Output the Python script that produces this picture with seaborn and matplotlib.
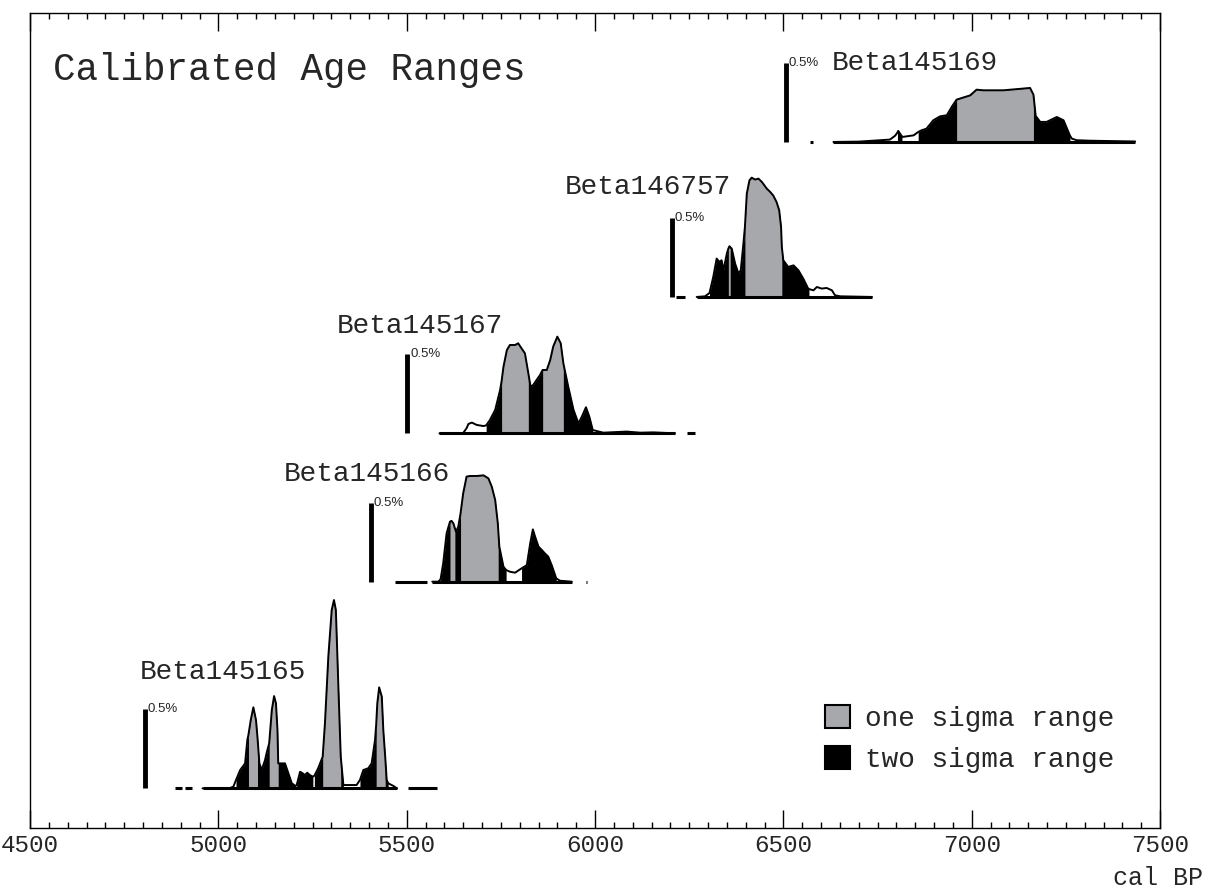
import matplotlib
matplotlib.use("Agg")
import matplotlib.pyplot as plt
from matplotlib.patches import Patch
from matplotlib.ticker import MultipleLocator
import numpy as np
import seaborn as sns

# calibrated probability curves (year cal BP, probability in % per year)
b145169_year = [6633, 6700, 6757, 6783, 6797, 6803, 6805, 6815, 6817, 6846, 6858, 6867, 6880,
                6898, 6916, 6934, 6947, 6960, 6996, 7013, 7031, 7084, 7137, 7155, 7164, 7170,
                7182, 7199, 7226, 7244, 7257, 7261, 7266, 7279, 7314, 7434]
b145169_prob = [0.0, 0.002, 0.011, 0.015, 0.040, 0.060, 0.070, 0.035, 0.032, 0.042, 0.063, 0.074, 0.084,
                0.137, 0.162, 0.169, 0.222, 0.268, 0.295, 0.331, 0.327, 0.327, 0.338, 0.342, 0.300, 0.165,
                0.127, 0.127, 0.158, 0.137, 0.063, 0.040, 0.021, 0.011, 0.008, 0.003]

b146757_year = [6270, 6292, 6304, 6314, 6323, 6330, 6336, 6341, 6350, 6354, 6357, 6359, 6363, 6372,
                6381, 6387, 6394, 6398, 6403, 6410, 6416, 6425, 6434, 6443, 6456, 6465, 6473, 6482,
                6489, 6494, 6496, 6500, 6513, 6527, 6540, 6553, 6566, 6568, 6580, 6589, 6602, 6615,
                6629, 6637, 6651, 6735]
b146757_prob = [0.0, 0.004, 0.025, 0.127, 0.243, 0.222, 0.232, 0.169, 0.274, 0.306, 0.321, 0.315, 0.306, 0.211,
                0.148, 0.169, 0.338, 0.443, 0.654, 0.738, 0.755, 0.743, 0.749, 0.728, 0.686, 0.665, 0.643, 0.601,
                0.549, 0.443, 0.316, 0.232, 0.190, 0.200, 0.169, 0.116, 0.053, 0.050, 0.042, 0.063, 0.053, 0.057,
                0.042, 0.011, 0.004, 0.0]

b145167_year = [5587, 5650, 5659, 5664, 5673, 5686, 5704, 5711, 5721, 5735, 5748, 5752, 5757, 5766,
                5774, 5788, 5796, 5805, 5814, 5823, 5829, 5836, 5845, 5854, 5861, 5872, 5881, 5889,
                5900, 5909, 5916, 5929, 5943, 5956, 5965, 5976, 5985, 5994, 6022, 6084, 6120, 6155, 6212]
b145167_prob = [0.0, 0.002, 0.032, 0.059, 0.068, 0.053, 0.046, 0.050, 0.084, 0.148, 0.274, 0.330, 0.422, 0.527,
                0.559, 0.559, 0.570, 0.538, 0.506, 0.380, 0.295, 0.306, 0.338, 0.369, 0.401, 0.401, 0.464, 0.549,
                0.612, 0.570, 0.443, 0.295, 0.148, 0.063, 0.105, 0.165, 0.105, 0.021, 0.004, 0.011, 0.004, 0.006, 0.0]

b145166_year = [5568, 5584, 5590, 5597, 5606, 5615, 5619, 5624, 5628, 5631, 5637, 5643, 5650, 5659,
                5668, 5686, 5704, 5717, 5726, 5735, 5742, 5743, 5746, 5757, 5764, 5774, 5788, 5796,
                5805, 5819, 5828, 5835, 5841, 5850, 5859, 5867, 5876, 5885, 5897, 5907, 5938]
b145166_prob = [0.0, 0.0, 0.015, 0.116, 0.306, 0.380, 0.385, 0.369, 0.338, 0.316, 0.348, 0.432, 0.559, 0.665,
                0.669, 0.669, 0.673, 0.654, 0.601, 0.517, 0.369, 0.330, 0.222, 0.095, 0.074, 0.063, 0.057, 0.070,
                0.084, 0.105, 0.243, 0.331, 0.285, 0.222, 0.200, 0.179, 0.158, 0.105, 0.021, 0.006, 0.0]

b145165_year = [4958, 5031, 5040, 5047, 5058, 5071, 5077, 5080, 5086, 5093, 5100, 5104, 5109, 5115,
                5124, 5128, 5135, 5142, 5148, 5153, 5157, 5159, 5168, 5177, 5186, 5195, 5205, 5208,
                5217, 5224, 5230, 5236, 5243, 5251, 5255, 5265, 5277, 5283, 5292, 5301, 5307, 5312,
                5319, 5325, 5332, 5341, 5367, 5376, 5385, 5398, 5407, 5416, 5419, 5422, 5427, 5434,
                5438, 5443, 5447, 5451, 5465, 5474]
b145165_prob = [0.0, 0.002, 0.011, 0.053, 0.116, 0.158, 0.306, 0.340, 0.432, 0.513, 0.432, 0.320, 0.158, 0.116,
                0.179, 0.222, 0.285, 0.496, 0.584, 0.538, 0.369, 0.158, 0.158, 0.158, 0.095, 0.032, 0.015, 0.020,
                0.105, 0.095, 0.084, 0.099, 0.084, 0.074, 0.080, 0.127, 0.200, 0.411, 0.833, 1.129, 1.192, 1.129,
                0.622, 0.200, 0.021, 0.021, 0.021, 0.053, 0.116, 0.127, 0.158, 0.306, 0.400, 0.538, 0.639, 0.580,
                0.369, 0.200, 0.053, 0.032, 0.015, 0.0]

# sigma ranges (cal BP)
b145169_one = [(6960, 7164)]
b145169_two = [(6803, 6815), (6858, 7261)]
b146757_one = [(6354, 6359), (6398, 6496)]
b146757_two = [(6304, 6568)]
b145167_one = [(5752, 5823), (5861, 5916)]
b145167_two = [(5711, 5994)]
b145166_one = [(5615, 5628), (5643, 5743)]
b145166_two = [(5590, 5764), (5805, 5897)]
b145165_one = [(5080, 5104), (5135, 5159), (5277, 5325), (5419, 5443)]
b145165_two = [(5047, 5205), (5208, 5251), (5255, 5332), (5376, 5451)]

# baseline segments under each curve
b145169_base = [(6571, 6579), (6633, 7434)]
b146757_base = [(6215, 6239), (6270, 6735)]
b145167_base = [(5587, 6212), (6244, 6266)]
b145166_base = [(5469, 5553), (5568, 5938), (5976, 5980)]
b145165_base = [(4885, 4903), (4912, 4930), (4958, 5474), (5504, 5580)]

names = ["Beta145169", "Beta146757", "Beta145167", "Beta145166", "Beta145165"]
scale_bar_x = [6507, 6204, 5502, 5405, 4805]

samples = [
    (b145169_year, b145169_prob, b145169_one, b145169_two, b145169_base),
    (b146757_year, b146757_prob, b146757_one, b146757_two, b146757_base),
    (b145167_year, b145167_prob, b145167_one, b145167_two, b145167_base),
    (b145166_year, b145166_prob, b145166_one, b145166_two, b145166_base),
    (b145165_year, b145165_prob, b145165_one, b145165_two, b145165_base),
]

# layout: vertical offset of each curve and where its label goes
offsets = [4.342, 3.361, 2.498, 1.559, 0.251]
label_pos = [(6629, 0.50), (5920, 0.696), (5315, 0.679), (5174, 0.682), (4792, 0.736)]

GREY = "#a7a8ab"
MONO = "Liberation Mono"

sns.set_style("ticks")
fig = plt.figure(figsize=(12.08, 8.92), dpi=100)
ax = fig.add_axes([30 / 1208, 1 - 828 / 892, 1130 / 1208, 815 / 892])

for (yr, pr, one, two, base), off, name, bx, (lx, ly) in zip(samples, offsets, names, scale_bar_x, label_pos):
    yr = np.array(yr, dtype=float)
    pr = np.array(pr) + off
    for a, b in two:
        m = (yr >= a) & (yr <= b)
        ax.fill_between(yr, off, pr, where=m, color="black", lw=0, zorder=2)
    for a, b in one:
        m = (yr >= a) & (yr <= b)
        ax.fill_between(yr, off, pr, where=m, color=GREY, lw=0, zorder=3)
    sns.lineplot(x=yr, y=pr, color="black", lw=1.4, errorbar=None, ax=ax, zorder=4)
    for a, b in base:
        ax.plot([a, b], [off, off], color="black", lw=2.2, solid_capstyle="butt", zorder=4)
    # 0.5% scale bar
    ax.plot([bx, bx], [off, off + 0.5], color="black", lw=3.5, solid_capstyle="butt", zorder=4)
    ax.text(bx + 8, off + 0.5, "0.5%", fontsize=9.5, family="Liberation Sans", ha="left", va="center")
    ax.text(lx, off + ly, name, fontsize=20, family=MONO, ha="left", va="center")

ax.text((53 - 30) / 1130, (828 - 70) / 815, "Calibrated Age Ranges", transform=ax.transAxes,
        fontsize=27, family=MONO, ha="left", va="center")

handles = [Patch(facecolor=GREY, edgecolor="black", lw=1.5), Patch(facecolor="black", edgecolor="black", lw=1.5)]
ax.legend(handles, ["one sigma range", "two sigma range"], loc="upper left",
          bbox_to_anchor=((825 - 30) / 1130, (828 - 705) / 815), frameon=False,
          prop={"family": MONO, "size": 20}, handlelength=0.9, handleheight=0.9,
          handletextpad=0.55, labelspacing=0.5, borderpad=0, borderaxespad=0)

ax.set_xlim(4500, 7500)
ax.set_ylim(0, 815 / 158)
ax.set_yticks([])
ax.xaxis.set_major_locator(MultipleLocator(500))
ax.xaxis.set_minor_locator(MultipleLocator(50))
ax.tick_params(axis="x", which="both", direction="in", top=True, bottom=True, width=1, color="black")
ax.tick_params(axis="x", which="major", length=13, pad=4, labelsize=17.5)
ax.tick_params(axis="x", which="minor", length=4)
for lbl in ax.get_xticklabels():
    lbl.set_family(MONO)
for s in ax.spines.values():
    s.set_visible(True)
    s.set_linewidth(1)
    s.set_color("black")

fig.text(0.996, 0.002, "cal BP", ha="right", va="bottom", fontsize=18, family=MONO)

fig.savefig("out.png", dpi=100)
